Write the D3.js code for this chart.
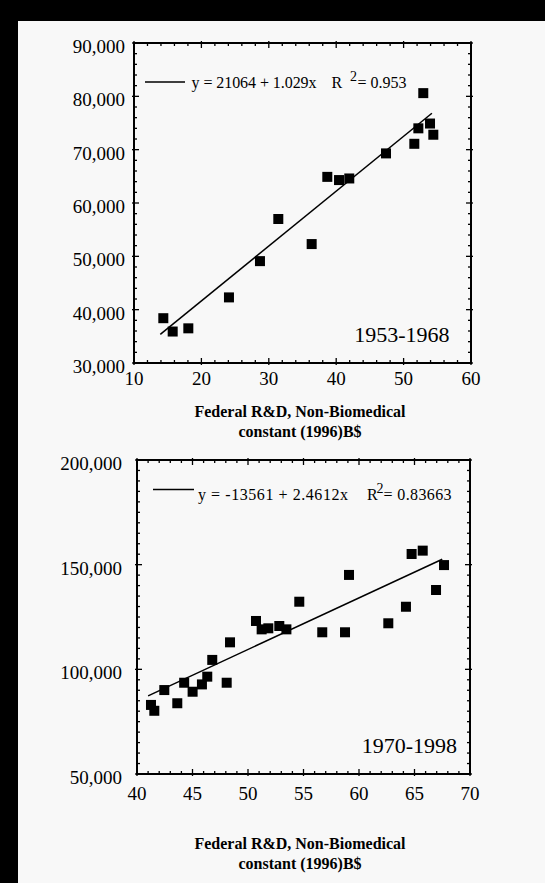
<!DOCTYPE html>
<html><head><meta charset="utf-8">
<script src="https://cdn.jsdelivr.net/npm/d3@7"></script>
<style>
html,body{margin:0;padding:0;background:#000;}
svg{display:block;}
text{font-family:"Liberation Serif","Times New Roman",serif;fill:#000;}
</style></head>
<body>
<script>
// ---------- DATA ----------
// Panel 1: 1953-1968
const xTicks1 = [10, 20, 30, 40, 50, 60];
const yTicks1 = [30000, 40000, 50000, 60000, 70000, 80000, 90000];
const yTickLabels1 = ["30,000", "40,000", "50,000", "60,000", "70,000", "80,000", "90,000"];
const rd1953 = [14.35, 15.74, 18.06, 24.09, 28.69, 31.41, 36.36, 38.68, 40.42, 41.94, 47.39, 51.59, 52.19, 52.92, 53.92, 54.41];
const val1953 = [38400, 35900, 36500, 42300, 49100, 57000, 52300, 64900, 64300, 64600, 69300, 71100, 74000, 80600, 74900, 72800];
const fit1953 = [21064, 1.029];        // intercept, slope (per M$)
const fitRange1953 = [13.9, 54.2];
const legend1953 = ["y = 21064 + 1.029x", "R", "2", "= 0.953"];
const period1953 = "1953-1968";

// Panel 2: 1970-1998
const xTicks2 = [40, 45, 50, 55, 60, 65, 70];
const yTicks2 = [50000, 100000, 150000, 200000];
const yTickLabels2 = ["50,000", "100,000", "150,000", "200,000"];
const rd1970 = [41.26, 41.56, 42.46, 43.63, 44.25, 45.01, 45.85, 46.33, 46.78, 48.08, 48.38, 50.72, 51.23, 51.83, 52.82, 53.46, 54.62, 56.69, 58.74, 59.10, 62.64, 64.23, 64.74, 65.74, 66.94, 67.66];
const val1970 = [83000, 80200, 90100, 83800, 93600, 89300, 92800, 96500, 104500, 93600, 112900, 123100, 119100, 119600, 120700, 119100, 132300, 117700, 117700, 145100, 122000, 129900, 155100, 156700, 137900, 149800];
const fit1970 = [-13561, 2.4612];
const fitRange1970 = [41.0, 67.5];
const legend1970 = ["y = -13561 + 2.4612x", "R", "2", "= 0.83663"];
const period1970 = "1970-1998";

const axisTitle = ["Federal R&D, Non-Biomedical", "constant (1996)B$"];

// ---------- DRAW ----------
const W = 545, H = 883;
const svg = d3.select("body").append("svg").attr("width", W).attr("height", H);
svg.append("rect").attr("width", W).attr("height", H).attr("fill", "#000");
svg.append("rect").attr("x", 18).attr("y", 21).attr("width", W - 18).attr("height", H - 21).attr("fill", "#f8f8f8");

function panel(o) {
  const x = d3.scaleLinear().domain(o.xDomain).range([o.left, o.right]);
  const y = d3.scaleLinear().domain(o.yDomain).range([o.bottom, o.top]);
  const g = svg.append("g");

  // ticks on four sides (inward)
  const xMinor = d3.range(o.xDomain[0], o.xDomain[1] + 1e-9, o.xMinorStep);
  const yMinor = d3.range(o.yDomain[0], o.yDomain[1] + 1e-9, o.yMinorStep);
  const majorIn = 5, majorOut = 2, minorIn = 3;
  const isMajorX = v => o.xTicks.some(t => Math.abs(t - v) < 1e-6);
  const isMajorY = v => o.yTicks.some(t => Math.abs(t - v) < 1e-6);
  const tk = g.append("g").attr("stroke", "#000").attr("stroke-width", 1.3);
  xMinor.forEach(v => {
    const X = x(v), m = isMajorX(v);
    tk.append("line").attr("x1", X).attr("x2", X).attr("y1", o.bottom + (m ? majorOut : 0)).attr("y2", o.bottom - (m ? majorIn : minorIn));
    tk.append("line").attr("x1", X).attr("x2", X).attr("y1", o.top - (m ? majorOut : 0)).attr("y2", o.top + (m ? majorIn : minorIn));
  });
  yMinor.forEach(v => {
    const Y = y(v), m = isMajorY(v);
    tk.append("line").attr("y1", Y).attr("y2", Y).attr("x1", o.left - (m ? majorOut : 0)).attr("x2", o.left + (m ? majorIn : minorIn));
    tk.append("line").attr("y1", Y).attr("y2", Y).attr("x1", o.right + (m ? majorOut : 0)).attr("x2", o.right - (m ? majorIn : minorIn));
  });

  // frame
  g.append("rect").attr("x", o.left).attr("y", o.top).attr("width", o.right - o.left).attr("height", o.bottom - o.top)
    .attr("fill", "none").attr("stroke", "#000").attr("stroke-width", 2);

  // tick labels
  g.selectAll(".xl").data(o.xTicks).join("text")
    .attr("x", d => x(d)).attr("y", o.bottom + o.xLabelDy)
    .attr("text-anchor", "middle").attr("font-size", 19).text(d => d);
  g.selectAll(".yl").data(o.yTicks).join("text")
    .attr("x", o.left - o.yLabelDx).attr("y", d => y(d) + 10)
    .attr("text-anchor", "end").attr("font-size", 19).text((d, i) => o.yTickLabels[i]);

  // fit line
  const fx = o.fitRange;
  const fline = d3.line().x(d => x(d)).y(d => y(o.fit[0] + o.fit[1] * d * 1000));
  g.append("path").attr("d", fline(fx)).attr("fill", "none").attr("stroke", "#000").attr("stroke-width", 1.5);

  // points
  const pts = o.xs.map((v, i) => [v, o.ys[i]]);
  g.selectAll(".pt").data(pts).join("rect")
    .attr("x", d => x(d[0]) - 5).attr("y", d => y(d[1]) - 5)
    .attr("width", 10).attr("height", 10).attr("fill", "#000");

  // legend
  const L = o.legend;
  g.append("line").attr("x1", L.x1).attr("x2", L.x2).attr("y1", L.ly).attr("y2", L.ly).attr("stroke", "#000").attr("stroke-width", 1.5);
  g.append("text").attr("x", L.tx).attr("y", L.base).attr("font-size", 16)
    .attr("textLength", L.tw).attr("lengthAdjust", "spacing").text(o.legendText[0]);
  g.append("text").attr("x", L.rx).attr("y", L.base).attr("font-size", 16).text(o.legendText[1]);
  g.append("text").attr("x", L.sx).attr("y", L.base - 7).attr("font-size", 14).text(o.legendText[2]);
  g.append("text").attr("x", L.ex).attr("y", L.base).attr("font-size", 16)
    .attr("textLength", L.ew).attr("lengthAdjust", "spacing").text(o.legendText[3]);

  // period label
  g.append("text").attr("x", o.period.x).attr("y", o.period.y).attr("text-anchor", "end")
    .attr("font-size", 22).text(o.periodText);

  // axis title
  g.append("text").attr("x", 300).attr("y", o.titleY[0]).attr("text-anchor", "middle")
    .attr("font-size", 16).attr("font-weight", "bold").text(axisTitle[0]);
  g.append("text").attr("x", 300).attr("y", o.titleY[1]).attr("text-anchor", "middle")
    .attr("font-size", 16).attr("font-weight", "bold").text(axisTitle[1]);
}

panel({
  left: 134, right: 471, top: 43, bottom: 363,
  xDomain: [10, 60], yDomain: [30000, 90000],
  xTicks: xTicks1, yTicks: yTicks1, yTickLabels: yTickLabels1,
  xMinorStep: 2, yMinorStep: 2000,
  xLabelDy: 22, yLabelDx: 9,
  xs: rd1953, ys: val1953, fit: fit1953, fitRange: fitRange1953,
  legendText: legend1953,
  legend: {x1: 145, x2: 185, ly: 82, tx: 191.5, tw: 125, base: 87.5, rx: 331.5, sx: 350, ex: 357.5, ew: 49},
  periodText: period1953, period: {x: 449.5, y: 342},
  titleY: [417, 437]
});

panel({
  left: 137, right: 470, top: 460, bottom: 774,
  xDomain: [40, 70], yDomain: [50000, 200000],
  xTicks: xTicks2, yTicks: yTicks2, yTickLabels: yTickLabels2,
  xMinorStep: 1, yMinorStep: 5000,
  xLabelDy: 26, yLabelDx: 15,
  xs: rd1970, ys: val1970, fit: fit1970, fitRange: fitRange1970,
  legendText: legend1970,
  legend: {x1: 153, x2: 194, ly: 489.5, tx: 198, tw: 150, base: 499.5, rx: 367, sx: 376.5, ex: 383.5, ew: 68},
  periodText: period1970, period: {x: 457, y: 753},
  titleY: [849, 869]
});
</script>
</body></html>
